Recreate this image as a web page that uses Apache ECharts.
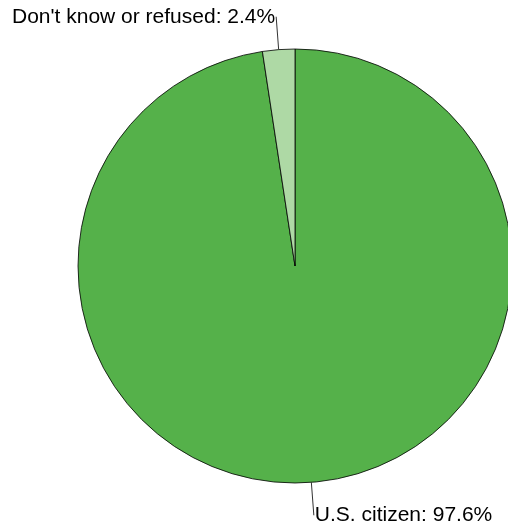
<!DOCTYPE html>
<html>
<head>
<meta charset="utf-8">
<script src="https://cdn.jsdelivr.net/npm/echarts@6/dist/echarts.min.js"></script>
<style>html,body{margin:0;padding:0;background:#fff;}#c{width:508px;height:529px;}</style>
</head>
<body>
<div id="c"></div>
<script>
const categories = ["U.S. citizen", "Don't know or refused"];
const values = [97.6, 2.4];
const colors = ["#55b14a", "#aed9a5"];

const chart = echarts.init(document.getElementById('c'), null, {renderer: 'canvas'});
chart.setOption({
  animation: false,
  backgroundColor: '#ffffff',
  series: [{
    type: 'pie',
    center: [295, 266],
    radius: [0, 217],
    startAngle: 90,
    clockwise: true,
    avoidLabelOverlap: false,
    data: categories.map((c, i) => ({name: c, value: values[i], itemStyle: {color: colors[i]}})),
    itemStyle: {borderColor: '#000000', borderWidth: 0.8},
    label: {
      show: true,
      position: 'outside',
      formatter: p => p.name + ': ' + p.value.toFixed(1) + '%',
      fontFamily: 'Liberation Sans, Arial, sans-serif',
      fontSize: 21,
      color: '#000000',
      distanceToLabelLine: 1
    },
    labelLine: {
      show: true,
      length: 33,
      length2: 0,
      lineStyle: {color: '#333333', width: 1}
    },
    emphasis: {disabled: true}
  }]
});
</script>
</body>
</html>
